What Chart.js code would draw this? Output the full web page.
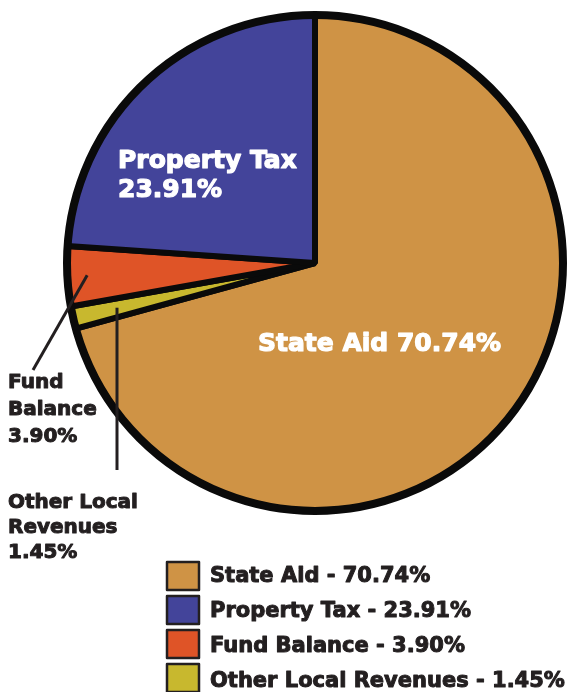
<!DOCTYPE html>
<html><head><meta charset="utf-8">
<script src="https://cdn.jsdelivr.net/npm/chart.js@4.4.0/dist/chart.umd.min.js"></script>
<style>
html,body{margin:0;padding:0;background:#fff;width:569px;height:692px;overflow:hidden}
#wrap{position:absolute;left:0;top:0;width:569px;height:692px}
</style></head><body>
<div id="wrap"><canvas id="c" width="569" height="692"></canvas></div>
<script>
const categories = ['State Aid', 'Other Local Revenues', 'Fund Balance', 'Property Tax'];
const values = [70.74, 1.45, 3.90, 23.91];
const colors = ['#cf9345', '#c8b82e', '#df5427', '#43449a'];
const pctLabels = ['70.74%', '1.45%', '3.90%', '23.91%'];
const legendOrder = [0, 3, 2, 1];
const sliceLabelLines = [['State Aid 70.74%'], ['Other Local', 'Revenues', '1.45%'], ['Fund', 'Balance', '3.90%'], ['Property Tax', '23.91%']];

const INK = '#231f20';
const FONT = '"DejaVu Sans", sans-serif';

function heavyText(ctx, t, x, y, color, w) {
  ctx.fillStyle = color;
  ctx.strokeStyle = color;
  ctx.lineWidth = w;
  ctx.lineJoin = 'round';
  ctx.strokeText(t, x, y);
  ctx.fillText(t, x, y);
}

const labelPlugin = {
  id: 'labels',
  afterDatasetsDraw(chart) {
    const ctx = chart.ctx;
    const arcs = chart.getDatasetMeta(0).data;
    const a0 = arcs[0];
    const cx = a0.x, cy = a0.y, R = a0.outerRadius;
    ctx.save();
    // outer thick rim
    ctx.beginPath();
    ctx.arc(cx, cy, R, 0, Math.PI * 2);
    ctx.lineWidth = 8;
    ctx.strokeStyle = '#0a0a0a';
    ctx.stroke();

    ctx.textAlign = 'left';
    ctx.textBaseline = 'alphabetic';
    // inside labels
    ctx.font = 'bold 25px ' + FONT;
    heavyText(ctx, sliceLabelLines[0][0], cx - 57, cy + 88, '#ffffff', 1.2);
    heavyText(ctx, sliceLabelLines[3][0], cx - 197, cy - 95, '#ffffff', 1.2);
    heavyText(ctx, sliceLabelLines[3][1], cx - 197, cy - 66, '#ffffff', 1.2);

    // outside labels
    ctx.font = 'bold 20px ' + FONT;
    sliceLabelLines[2].forEach((t, i) => heavyText(ctx, t, 8, 388 + i * 27, INK, 1));
    sliceLabelLines[1].forEach((t, i) => heavyText(ctx, t, 8, 508 + i * 25, INK, 1));

    // leader lines
    ctx.strokeStyle = INK;
    ctx.lineWidth = 3;
    ctx.lineCap = 'butt';
    const fa = arcs[2];
    const fm = (fa.startAngle + fa.endAngle) / 2;
    ctx.beginPath();
    ctx.moveTo(cx + Math.cos(fm) * R * 0.92, cy + Math.sin(fm) * R * 0.92);
    ctx.lineTo(33, 370);
    ctx.stroke();
    const oa = arcs[1];
    const om = (oa.startAngle + oa.endAngle) / 2;
    const ox = 117;
    const orr = (ox - cx) / Math.cos(om);
    ctx.beginPath();
    ctx.moveTo(ox, cy + Math.sin(om) * orr);
    ctx.lineTo(ox, 470);
    ctx.stroke();

    // legend
    legendOrder.forEach((idx, k) => {
      const top = 562 + k * 34;
      ctx.fillStyle = colors[idx];
      ctx.fillRect(167, top, 32, 28);
      ctx.lineWidth = 2.5;
      ctx.strokeStyle = INK;
      ctx.strokeRect(167, top, 32, 28);
      ctx.font = 'bold 21px ' + FONT;
      heavyText(ctx, categories[idx] + ' - ' + pctLabels[idx], 210, 582 + k * 35, INK, 1);
    });
    ctx.restore();
  }
};

new Chart(document.getElementById('c'), {
  type: 'pie',
  data: {
    labels: categories,
    datasets: [{
      data: values,
      backgroundColor: colors,
      borderColor: '#0a0a0a',
      borderWidth: 6
    }]
  },
  options: {
    responsive: false,
    animation: false,
    events: [],
    layout: { padding: { left: 64, right: 3, top: 12, bottom: 178 } },
    plugins: { legend: { display: false }, tooltip: { enabled: false } }
  },
  plugins: [labelPlugin]
});
</script>
</body></html>
